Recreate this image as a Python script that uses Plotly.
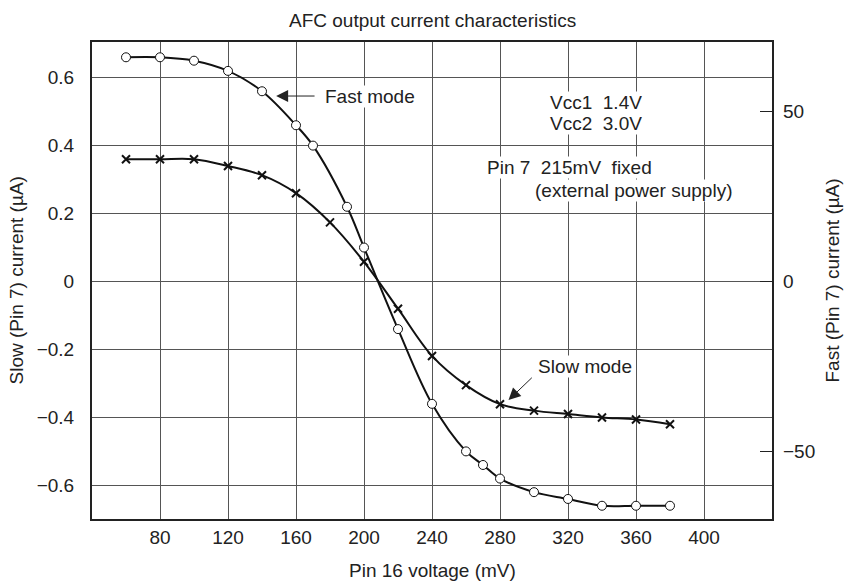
import plotly.graph_objects as go

# Data
fast_x = [60, 80, 100, 120, 140, 160, 170, 190, 200, 220, 240, 260, 270, 280, 300, 320, 340, 360, 380]
fast_y = [66, 66, 65, 62, 56, 46, 40, 22, 10, -14, -36, -50, -54, -58, -62, -64, -66, -66, -66]  # Fast (µA), right axis

slow_x = [60, 80, 100, 120, 140, 160, 180, 200, 220, 240, 260, 280, 300, 320, 340, 360, 380]
slow_y = [0.36, 0.36, 0.36, 0.34, 0.313, 0.26, 0.174, 0.058, -0.08, -0.219, -0.305, -0.361, -0.38, -0.39, -0.4, -0.406, -0.42]  # Slow (µA), left axis

x_ticks = [80, 120, 160, 200, 240, 280, 320, 360, 400]
y_ticks = [-0.6, -0.4, -0.2, 0, 0.2, 0.4, 0.6]
y_ticktext = ["\u22120.6", "\u22120.4", "\u22120.2", "0", "0.2", "0.4", "0.6"]
y2_ticks = [-50, 0, 50]
y2_ticktext = ["\u221250", "0", "50"]

FONT = "Liberation Sans, Arial, sans-serif"
FS = 19
TXT = "#222222"

fig = go.Figure()

fig.add_trace(go.Scatter(
    x=slow_x, y=slow_y, mode="lines+markers", name="Slow mode",
    line=dict(color="#111111", width=2, shape="spline", smoothing=1.0),
    marker=dict(symbol="x-thin", size=8, line=dict(color="#111111", width=2)),
    yaxis="y", showlegend=False,
))
fig.add_trace(go.Scatter(
    x=fast_x, y=fast_y, mode="lines+markers", name="Fast mode",
    line=dict(color="#111111", width=2, shape="spline", smoothing=1.0),
    marker=dict(symbol="circle", size=9, color="white", line=dict(color="#111111", width=1)),
    yaxis="y2", showlegend=False,
))

annotations = []
def txt(x, y, s, anchor="left"):
    annotations.append(dict(x=x, y=y, xref="x", yref="y", text=s, showarrow=False,
                            xanchor=anchor, yanchor="middle", bgcolor="white", borderpad=0,
                            font=dict(family=FONT, size=FS, color=TXT)))

txt(176.5, 0.546, "Fast mode")
txt(301.5, -0.251, "Slow mode")
txt(336.5, 0.528, "Vcc1\u00a0\u00a01.4V", anchor="center")
txt(336.5, 0.466, "Vcc2\u00a0\u00a03.0V", anchor="center")
txt(271.5, 0.335, "Pin 7\u00a0\u00a0215mV\u00a0\u00a0fixed")
txt(299.8, 0.2685, "(external power supply)")

# Arrows
annotations.append(dict(x=148.3, y=0.546, ax=171.8, ay=0.546, xref="x", yref="y", axref="x", ayref="y",
                        text="", showarrow=True, arrowhead=2, arrowsize=2.4, arrowwidth=1,
                        arrowcolor=TXT))
annotations.append(dict(x=285.0, y=-0.349, ax=299.6, ay=-0.279, xref="x", yref="y", axref="x", ayref="y",
                        text="", showarrow=True, arrowhead=2, arrowsize=2.4, arrowwidth=1,
                        arrowcolor=TXT))

# Axis titles and chart title
annotations.append(dict(x=0, y=0.5, xref="paper", yref="paper", xshift=-76, textangle=-90,
                        text="Slow (Pin 7) current (\u00b5A)", showarrow=False, xanchor="center", yanchor="middle",
                        font=dict(family=FONT, size=FS, color=TXT)))
annotations.append(dict(x=1, y=0.5, xref="paper", yref="paper", xshift=60, textangle=-90,
                        text="Fast (Pin 7) current (\u00b5A)", showarrow=False, xanchor="center", yanchor="middle",
                        font=dict(family=FONT, size=FS, color=TXT)))
annotations.append(dict(x=0.5, y=0, xref="paper", yref="paper", yshift=-51,
                        text="Pin 16 voltage (mV)", showarrow=False, xanchor="center", yanchor="middle",
                        font=dict(family=FONT, size=FS, color=TXT)))
annotations.append(dict(x=0.5, y=1, xref="paper", yref="paper", yshift=22,
                        text="AFC output current characteristics", showarrow=False, xanchor="center", yanchor="middle",
                        font=dict(family=FONT, size=FS, color=TXT)))

fig.update_layout(
    width=845, height=585,
    margin=dict(l=92, r=73, t=42, b=66, autoexpand=False),
    paper_bgcolor="white", plot_bgcolor="white",
    font=dict(family=FONT, size=FS, color=TXT),
    hovermode=False,
    xaxis=dict(range=[40, 440], tickvals=x_ticks, showgrid=True, gridcolor="#555555", gridwidth=1,
               showline=True, linecolor="#222222", linewidth=2, mirror=True, ticks="", zeroline=False,
               automargin=False, tickfont=dict(size=FS)),
    yaxis=dict(range=[-0.699, 0.705], tickvals=y_ticks, ticktext=y_ticktext, showgrid=True,
               gridcolor="#555555", gridwidth=1, showline=True, linecolor="#222222", linewidth=2,
               mirror=True, ticks="", zeroline=False, ticklabelstandoff=12, automargin=False,
               tickfont=dict(size=FS)),
    yaxis2=dict(range=[-69.9, 70.5], overlaying="y", side="right", tickvals=y2_ticks, ticktext=y2_ticktext,
                showgrid=False, zeroline=False, ticks="inside", ticklen=12, tickcolor="#222222", tickwidth=1,
                showline=False, ticklabelstandoff=10, automargin=False, tickfont=dict(size=FS)),
    annotations=annotations,
)

fig.write_html("out.html", config={"displayModeBar": False},
               post_script="document.body.style.margin='0';document.body.style.padding='0';")
